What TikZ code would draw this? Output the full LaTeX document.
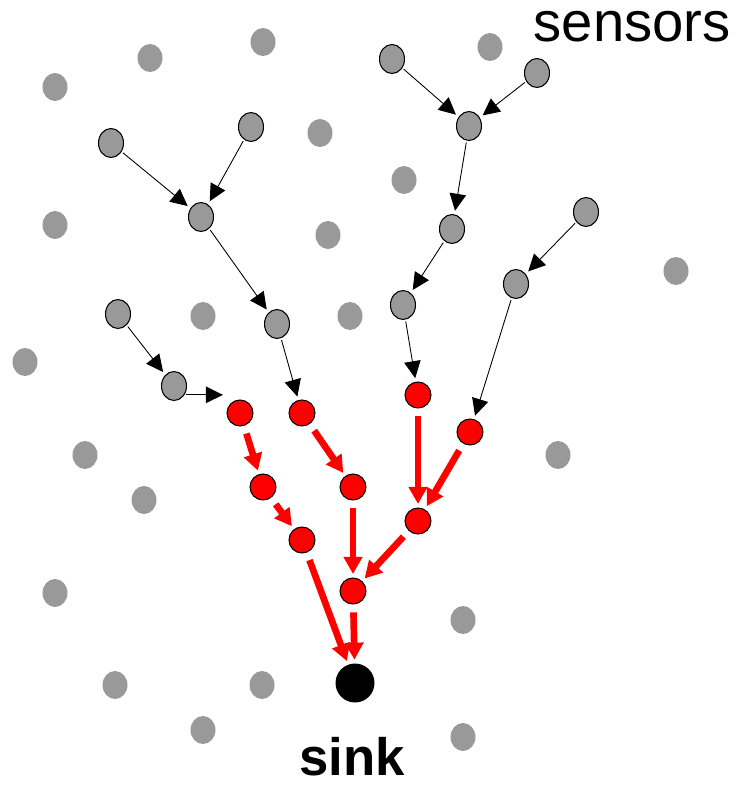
\documentclass[tikz,border=0pt]{standalone}
\usepackage{fontspec}
\setsansfont{Liberation Sans}
\usetikzlibrary{arrows.meta,shapes.geometric}
\definecolor{ink}{HTML}{000000}
\definecolor{dotGray}{HTML}{999999}
\definecolor{hotRed}{HTML}{FF0000}
\tikzset{
  idle/.style={ellipse, fill=dotGray, minimum width=0.5cm, minimum height=0.56cm, inner sep=0pt},
  relay/.style={ellipse, draw=ink, fill=dotGray, line width=0.6pt, minimum width=0.5cm, minimum height=0.58cm, inner sep=0pt},
  hot/.style={circle, draw=ink, fill=hotRed, line width=0.6pt, minimum size=0.52cm, inner sep=0pt},
  sinknode/.style={circle, fill=ink, minimum size=0.78cm, inner sep=0pt},
  hop/.style={-{Triangle[length=3.4mm, width=3.3mm]}, ink, line width=0.5pt, shorten <=1pt, shorten >=2pt},
  flow/.style={-{Triangle[length=3.4mm, width=3.6mm]}, hotRed, line width=3.8pt, shorten <=4.5pt, shorten >=2pt},
  lbl/.style={font=\sffamily\fontsize{32}{36}\selectfont, text=ink, inner sep=0pt, text depth=0pt},
}

\begin{document}
\begin{tikzpicture}[x=0.02cm, y=-0.02cm]
\useasboundingbox (0,0) rectangle (737,786);
% sensors that are not on any route
\foreach \x/\y in {55/87, 150/58, 263/42, 490/47, 320/133, 404/180, 55/225, 328/235,
  676/271, 203/316, 350/316, 25/362, 85/455, 558/455, 144/500, 55/593, 463/620,
  115/685, 262/685, 203/730, 463/737}
  \node[idle] at (\x,\y) {};
% relaying sensors
\node[relay] (g1) at (392,59) {};
\node[relay] (g2) at (537,73) {};
\node[relay] (g3) at (469,126) {};
\node[relay] (g4) at (111,143) {};
\node[relay] (g5) at (251,127) {};
\node[relay] (g6) at (201,217) {};
\node[relay] (g7) at (452,229) {};
\node[relay] (g8) at (586,212) {};
\node[relay] (g9) at (516,284) {};
\node[relay] (g10) at (403,305) {};
\node[relay] (g11) at (277,324) {};
\node[relay] (g12) at (118,314) {};
\node[relay] (g13) at (174,386) {};
% sensors near the sink
\node[hot] (r1) at (240,413) {};
\node[hot] (r2) at (302,413) {};
\node[hot] (r3) at (418,395) {};
\node[hot] (r4) at (470,432) {};
\node[hot] (r5) at (263,487) {};
\node[hot] (r6) at (353,487) {};
\node[hot] (r7) at (418,521) {};
\node[hot] (r8) at (302,540) {};
\node[hot] (r9) at (353,591) {};
\node[sinknode] (sink) at (355,683) {};
% thin hops
\draw[hop] (g1) -- (g3);
\draw[hop] (g2) -- (g3);
\draw[hop] (g4) -- (g6);
\draw[hop] (g5) -- (g6);
\draw[hop] (g6) -- (g11);
\draw[hop] (g3) -- (g7);
\draw[hop] (g7) -- (g10);
\draw[hop] (g8) -- (g9);
\draw[hop] (g9) -- (r4);
\draw[hop] (g10) -- (r3);
\draw[hop] (g11) -- (r2);
\draw[hop] (g12) -- (g13);
\draw[hop] (g13.-40) -- (g13.-40 -| r1.west);
% heavy traffic
\draw[flow] (r1) -- (r5);
\draw[flow] (r2) -- (r6);
\draw[flow] (r5) -- (r8);
\draw[flow] (r6) -- (r9);
\draw[flow] (r3) -- (r7);
\draw[flow] (r4) -- (r7);
\draw[flow] (r7) -- (r9);
\draw[flow] (r8) -- (sink);
\draw[flow] (r9) -- (sink);
% labels
\node[lbl, anchor=base east] (sensors) at (731,42) {sensors};
\node[lbl, anchor=base, font=\sffamily\bfseries\fontsize{30}{34}\selectfont] (sinklbl) at (352,775) {sink};
\end{tikzpicture}
\end{document}
